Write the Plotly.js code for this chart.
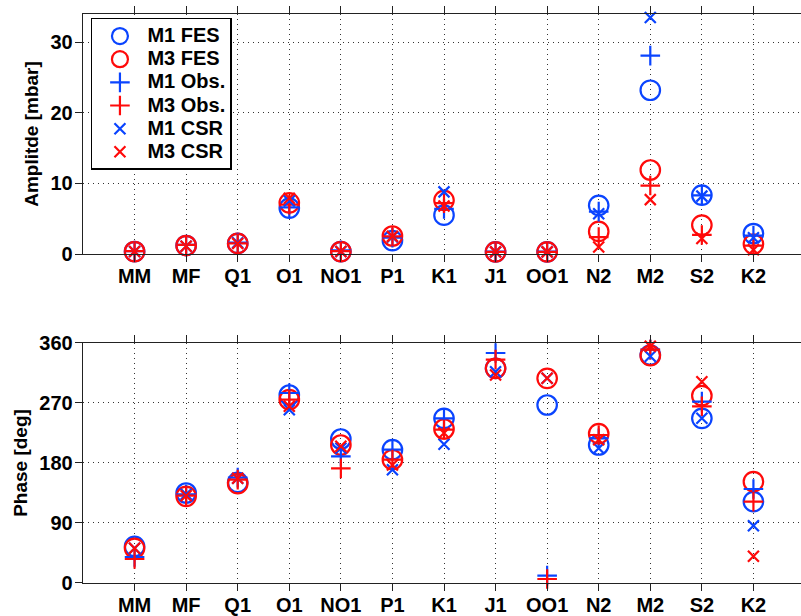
<!DOCTYPE html>
<html><head><meta charset="utf-8">
<script src="https://cdn.plot.ly/plotly-3.0.1.min.js"></script>
<style>html,body{margin:0;padding:0;overflow:hidden;background:#fff}#c{width:805px;height:616px}</style>
</head><body><div id="c"></div>
<script>
const cats = ['MM','MF','Q1','O1','NO1','P1','K1','J1','OO1','N2','M2','S2','K2'];
const ampM1FES = [0.35,1.2,1.5,6.5,0.35,1.9,5.5,0.3,0.3,6.9,23.2,8.35,2.9];
const ampM3FES = [0.35,1.2,1.5,7.25,0.35,2.55,7.6,0.3,0.3,3.2,11.9,4.1,1.4];
const ampM1Obs = [0.4,1.3,1.6,6.6,0.5,2.3,6.4,0.35,0.35,6.0,28.1,8.3,2.6];
const ampM3Obs = [0.4,1.3,1.5,7.0,0.4,2.5,7.2,0.3,0.3,2.4,9.7,2.7,1.2];
const ampM1CSR = [0.35,1.1,1.6,7.5,0.35,2.4,8.8,0.3,0.3,5.7,33.5,8.2,2.3];
const ampM3CSR = [0.35,1.1,1.5,7.9,0.35,2.5,6.8,0.3,0.3,1.0,7.7,2.2,0.6];
const phM1FES = [55,135,151,282,216,200,247,322,267,207,342,247,122];
const phM3FES = [52,130,149,275,207,185,231,322,307,224,341,281,152];
const phM1Obs = [39,133,158,285,190,200,247,345,11,217,350,272,141];
const phM3Obs = [36,131,155,275,172,185,230,335,6,222,350,265,122];
const phM1CSR = [52,133,157,260,202,170,208,317,307,202,340,247,86];
const phM3CSR = [52,131,157,265,205,177,225,312,307,215,355,302,40];
const names = ['M1 FES','M3 FES','M1 Obs.','M3 Obs.','M1 CSR','M3 CSR'];
const blue = '#0a44ff', red = '#ff0a0a';

const xpos = cats.map((c,i)=>i+1);
const styles = [
  {symbol:'circle-open', size:19.5, color:blue},
  {symbol:'circle-open', size:19.5, color:red},
  {symbol:'cross-thin-open', size:14, color:blue},
  {symbol:'cross-thin-open', size:14, color:red},
  {symbol:'x-thin-open', size:11, color:blue},
  {symbol:'x-thin-open', size:11, color:red}
];
const ampSeries = [ampM1FES,ampM3FES,ampM1Obs,ampM3Obs,ampM1CSR,ampM3CSR];
const phSeries = [phM1FES,phM3FES,phM1Obs,phM3Obs,phM1CSR,phM3CSR];
const traces = [];
ampSeries.forEach((s,i)=>{
  const st = styles[i];
  traces.push({x:xpos,y:s,type:'scatter',mode:'markers',name:'<span style="font-size:20px">'+names[i]+'</span>',xaxis:'x',yaxis:'y',
    marker:{symbol:st.symbol,size:st.size,color:st.color,line:{color:st.color,width:2.2}},cliponaxis:false});
});
phSeries.forEach((s,i)=>{
  const st = styles[i];
  traces.push({x:xpos,y:s,type:'scatter',mode:'markers',name:names[i],xaxis:'x2',yaxis:'y2',showlegend:false,
    marker:{symbol:st.symbol,size:st.size,color:st.color,line:{color:st.color,width:2.2}},cliponaxis:false});
});
const fam = 'Liberation Sans, Arial, sans-serif';
const tickFont = {family:fam, size:20, color:'#000', weight:'bold'};
const titleFont = {family:fam, size:19, color:'#000', weight:'bold'};
const legFont = {family:fam, size:15.5, color:'#000', weight:'bold'};
const xax = {range:[0,14], tickmode:'array', tickvals:xpos, ticktext:cats, showline:true, linecolor:'#222', linewidth:1.3,
  mirror:'ticks', ticks:'outside', ticklen:7, tickcolor:'#222', tickwidth:1, showgrid:true, gridcolor:'#333', griddash:'1px,4px', gridwidth:1,
  zeroline:false, tickfont:tickFont, ticklabelstandoff:-3};
const yax = {showline:true, linecolor:'#222', linewidth:1.3, mirror:'ticks', ticks:'outside', ticklen:7, tickcolor:'#222', tickwidth:1,
  showgrid:true, gridcolor:'#333', griddash:'1px,4px', gridwidth:1, zeroline:false, tickfont:tickFont, ticklabelstandoff:-2};
const layout = {
  width:805, height:616, margin:{l:83, r:0, t:14, b:33},
  paper_bgcolor:'#fff', plot_bgcolor:'#fff', font:tickFont,
  xaxis:Object.assign({}, xax, {anchor:'y', domain:[0,1]}),
  yaxis:Object.assign({}, yax, {anchor:'x', domain:[0.5782,1], range:[0,34], tickvals:[0,10,20,30],
    title:{text:'Amplitde [mbar]', font:titleFont, standoff:6}}),
  xaxis2:Object.assign({}, xax, {anchor:'y2', domain:[0,1]}),
  yaxis2:Object.assign({}, yax, {anchor:'x2', domain:[0,0.4218], range:[0,360], tickvals:[0,90,180,270,360],
    title:{text:'Phase [deg]', font:titleFont, standoff:6}}),
  showlegend:true,
  legend:{x:0.011, y:0.993, xanchor:'left', yanchor:'top', bgcolor:'#fff', bordercolor:'#000', borderwidth:1.5,
    font:legFont, itemwidth:45, tracegroupgap:0, itemclick:false},
};
Plotly.newPlot('c', traces, layout, {staticPlot:true});
</script></body></html>
